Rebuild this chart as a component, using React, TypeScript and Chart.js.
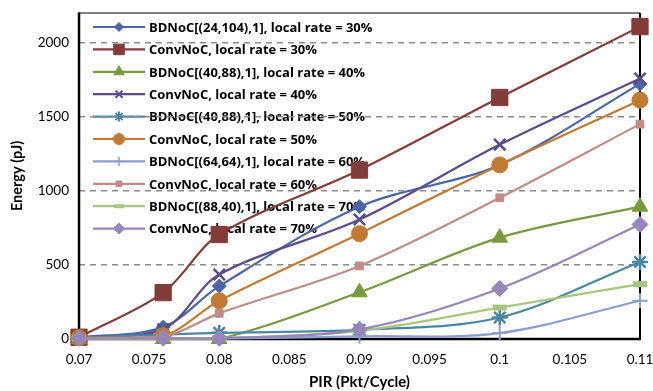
import React, { useEffect, useRef } from "react";
import { Chart, registerables } from "chart.js";
import { drawPoint } from "chart.js/helpers";

Chart.register(...registerables);

// Packet injection rate (x) and energy per series (pJ)
const pir = [0.07, 0.076, 0.08, 0.09, 0.1, 0.11];
const bd30 = [10, 80, 357, 893, 1175, 1722];
const conv30 = [12, 313, 705, 1140, 1630, 2108];
const bd40 = [0, 0, 0, 315, 684, 893];
const conv40 = [10, 65, 435, 806, 1312, 1758];
const bd50 = [10, 30, 42, 62, 145, 520];
const conv50 = [8, 22, 258, 711, 1175, 1612];
const bd60 = [3, 3, 3, 18, 40, 258];
const conv60 = [5, 15, 173, 493, 953, 1450];
const bd70 = [5, 5, 5, 55, 212, 370];
const conv70 = [5, 5, 5, 65, 341, 773];

const seriesLabels = [
  "BDNoC[(24,104),1], local rate = 30%",
  "ConvNoC, local rate = 30%",
  "BDNoC[(40,88),1], local rate = 40%",
  "ConvNoC, local rate = 40%",
  "BDNoC[(40,88),1], local rate = 50%",
  "ConvNoC, local rate = 50%",
  "BDNoC[(64,64),1], local rate = 60%",
  "ConvNoC, local rate = 60%",
  "BDNoC[(88,40),1], local rate = 70%",
  "ConvNoC, local rate = 70%",
];
const seriesValues = [bd30, conv30, bd40, conv40, bd50, conv50, bd60, conv60, bd70, conv70];

const yTicks = [0, 500, 1000, 1500, 2000];

type Marker = { color: string; style: string; radius: number; width: number; legendRadius: number; legendWidth: number };

const markers: Marker[] = [
  { color: "#4a66a6", style: "rectRot", radius: 7, width: 1, legendRadius: 4.5, legendWidth: 1 },
  { color: "#843c3a", style: "rect", radius: 11.5, width: 1, legendRadius: 7.5, legendWidth: 1 },
  { color: "#789a3c", style: "triangle", radius: 9, width: 1, legendRadius: 6, legendWidth: 1 },
  { color: "#5c4a8c", style: "crossRot", radius: 8, width: 2.5, legendRadius: 5, legendWidth: 2 },
  { color: "#4a87a2", style: "star", radius: 8, width: 2.5, legendRadius: 5, legendWidth: 2 },
  { color: "#c27a32", style: "circle", radius: 8, width: 1, legendRadius: 5.5, legendWidth: 1 },
  { color: "#8c9dd2", style: "cross", radius: 7.5, width: 2, legendRadius: 4.5, legendWidth: 1.5 },
  { color: "#c28b89", style: "rect", radius: 5.5, width: 1, legendRadius: 4, legendWidth: 1 },
  { color: "#a9c67e", style: "line", radius: 7, width: 6, legendRadius: 5, legendWidth: 4 },
  { color: "#9686bb", style: "rectRot", radius: 8, width: 1, legendRadius: 5.5, legendWidth: 1 },
];

const FONT = "Lato, 'Open Sans', sans-serif";
const LEGEND_FONT = "'Open Sans', Lato, sans-serif";

// Legend drawn inside the plot area, one line-plus-marker per series
const insideLegend = {
  id: "insideLegend",
  beforeDraw(chart: any) {
    const { ctx, chartArea } = chart;
    const x0 = chartArea.left + 14;
    const x1 = chartArea.left + 66;
    const textX = chartArea.left + 70;
    const top = chartArea.top + 14;
    const rowH = 22.4;
    ctx.save();
    ctx.font = `bold 13px ${LEGEND_FONT}`;
    ctx.textBaseline = "middle";
    ctx.textAlign = "left";
    seriesLabels.forEach((label, i) => {
      const m = markers[i];
      const y = top + i * rowH;
      ctx.strokeStyle = m.color;
      ctx.fillStyle = m.color;
      ctx.lineWidth = 2.2;
      ctx.setLineDash([]);
      ctx.beginPath();
      ctx.moveTo(x0, y);
      ctx.lineTo(x1, y);
      ctx.stroke();
      ctx.lineWidth = m.legendWidth;
      drawPoint(ctx, { pointStyle: m.style as any, radius: m.legendRadius, rotation: 0, borderWidth: m.legendWidth }, (x0 + x1) / 2, y);
      ctx.fillStyle = "#000";
      ctx.fillText(label, textX, y + 1);
    });
    ctx.restore();
  },
};

// Black frame around the plot area, heavier on the axes
const plotFrame = {
  id: "plotFrame",
  beforeDatasetsDraw(chart: any) {
    const { ctx, chartArea } = chart;
    const { left, right, top, bottom } = chartArea;
    ctx.save();
    ctx.setLineDash([]);
    ctx.strokeStyle = "#000";
    ctx.lineWidth = 1.2;
    ctx.beginPath();
    ctx.moveTo(left, top);
    ctx.lineTo(right, top);
    ctx.stroke();
    ctx.lineWidth = 2;
    ctx.beginPath();
    ctx.moveTo(right, top);
    ctx.lineTo(right, bottom);
    ctx.stroke();
    ctx.lineWidth = 2.5;
    ctx.beginPath();
    ctx.moveTo(left, top - 0.6);
    ctx.lineTo(left, bottom);
    ctx.lineTo(right + 1, bottom);
    ctx.stroke();
    ctx.restore();
  },
};

export default function App() {
  const canvasRef = useRef<HTMLCanvasElement | null>(null);

  useEffect(() => {
    document.body.style.margin = "0";
    const canvas = canvasRef.current;
    if (!canvas) return;

    const datasets = seriesValues.map((vals, i) => {
      const m = markers[i];
      return {
        label: seriesLabels[i],
        data: pir.map((x, j) => ({ x, y: vals[j] })),
        borderColor: m.color,
        backgroundColor: m.color,
        borderWidth: 2.2,
        pointStyle: m.style,
        pointRadius: m.radius,
        pointHoverRadius: m.radius,
        pointBorderWidth: m.width,
        pointBackgroundColor: m.color,
        pointBorderColor: m.color,
        tension: 0.33,
        fill: false,
        clip: false,
        order: seriesValues.length - i,
      };
    });

    const chart = new Chart(canvas, {
      type: "line",
      data: { datasets: datasets as any },
      options: {
        animation: false,
        responsive: false,
        events: [],
        layout: { padding: { top: 12, right: 13, left: 0, bottom: 0 } },
        plugins: {
          legend: { display: false },
          tooltip: { enabled: false },
        },
        scales: {
          x: {
            type: "linear",
            min: 0.07,
            max: 0.11,
            ticks: {
              stepSize: 0.005,
              color: "#000",
              padding: 13,
              font: { family: FONT, size: 13.5 },
              callback: (v: any) => String(+Number(v).toFixed(3)),
            },
            grid: { display: false, drawTicks: false },
            border: { display: false },
            title: {
              display: true,
              text: "PIR (Pkt/Cycle)",
              color: "#000",
              font: { family: FONT, size: 15, weight: "bold" },
              padding: { top: 0, bottom: 0 },
            },
            afterFit: (scale: any) => {
              scale.height = 52;
              scale.paddingLeft = 0;
              scale.paddingRight = 0;
            },
          },
          y: {
            type: "linear",
            min: 0,
            max: 2200,
            afterBuildTicks: (scale: any) => {
              scale.ticks = yTicks.map((value) => ({ value }));
            },
            ticks: {
              color: "#000",
              padding: 10,
              font: { family: FONT, size: 13.5 },
              callback: (v: any) => String(v),
            },
            grid: {
              drawTicks: false,
              color: (c: any) => (c.tick && c.tick.value === 0 ? "rgba(0,0,0,0)" : "#8c8c8c"),
              lineWidth: 1.6,
            },
            border: { display: false, dash: [6, 5] },
            title: {
              display: true,
              text: "Energy (pJ)",
              color: "#000",
              font: { family: FONT, size: 14.5, weight: "bold" },
              padding: { top: 9, bottom: 0 },
            },
            afterFit: (scale: any) => {
              scale.width = 79;
              scale.paddingTop = 0;
              scale.paddingBottom = 0;
            },
          },
        },
      },
      plugins: [insideLegend, plotFrame],
    });

    return () => chart.destroy();
  }, []);

  return (
    <div style={{ width: 653, height: 391, background: "#fff" }}>
      <canvas ref={canvasRef} width={653} height={391} style={{ display: "block" }} />
    </div>
  );
}
